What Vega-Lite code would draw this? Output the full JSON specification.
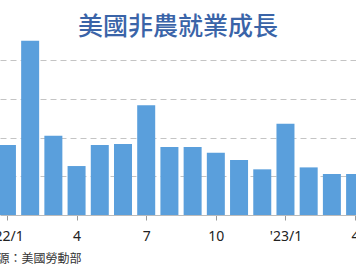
{
  "$schema": "https://vega.github.io/schema/vega-lite/v6.json",
  "width": 356,
  "height": 215,
  "autosize": {"type": "none"},
  "padding": {"left": 0, "top": 0, "right": 0, "bottom": 57},
  "background": "white",
  "title": {
    "text": "美國非農就業成長",
    "font": "Noto Sans CJK TC",
    "fontSize": 25,
    "fontWeight": 500,
    "color": "#3a64a8",
    "anchor": "middle",
    "frame": "group",
    "baseline": "middle",
    "offset": -52
  },
  "data": {
    "values": [
      {"idx": 0, "month": "2022-01", "jobs": 362},
      {"idx": 1, "month": "2022-02", "jobs": 901},
      {"idx": 2, "month": "2022-03", "jobs": 410},
      {"idx": 3, "month": "2022-04", "jobs": 253},
      {"idx": 4, "month": "2022-05", "jobs": 362},
      {"idx": 5, "month": "2022-06", "jobs": 367},
      {"idx": 6, "month": "2022-07", "jobs": 567},
      {"idx": 7, "month": "2022-08", "jobs": 351},
      {"idx": 8, "month": "2022-09", "jobs": 351},
      {"idx": 9, "month": "2022-10", "jobs": 322},
      {"idx": 10, "month": "2022-11", "jobs": 284},
      {"idx": 11, "month": "2022-12", "jobs": 236},
      {"idx": 12, "month": "2023-01", "jobs": 472},
      {"idx": 13, "month": "2023-02", "jobs": 246},
      {"idx": 14, "month": "2023-03", "jobs": 212},
      {"idx": 15, "month": "2023-04", "jobs": 212}
    ]
  },
  "mark": {"type": "bar", "size": 18, "color": "#5a9fdc", "clip": true},
  "encoding": {
    "x": {
      "field": "idx",
      "type": "quantitative",
      "scale": {"domain": [-0.0838, 15], "range": [0, 360.1], "nice": false, "zero": false},
      "axis": {
        "values": [0, 3, 6, 9, 12, 15],
        "labelExpr": "datum.value == 0 ? \"'22/1\" : datum.value == 12 ? \"'23/1\" : '' + ((datum.value % 12) + 1)",
        "labelFont": "Noto Sans",
        "labelFontSize": 14,
        "labelColor": "#222222",
        "labelPadding": 9,
        "labelOverlap": false,
        "labelFlush": false,
        "grid": false,
        "domainColor": "#bbbbbb",
        "tickColor": "#999999",
        "tickSize": 5,
        "title": "資料來源：美國勞動部",
        "titleFont": "Noto Sans CJK TC",
        "titleFontSize": 12,
        "titleFontWeight": "normal",
        "titleColor": "#333333",
        "titleAnchor": "start",
        "titleAlign": "left",
        "titleBaseline": "middle",
        "titleX": -39,
        "titleY": 43
      }
    },
    "y": {
      "field": "jobs",
      "type": "quantitative",
      "scale": {"domain": [0, 1111], "nice": false},
      "axis": {
        "values": [200, 400, 600, 800],
        "labels": false,
        "ticks": false,
        "domain": false,
        "title": null,
        "grid": true,
        "gridColor": "#c4c4c4",
        "gridDash": [6, 4],
        "gridWidth": 1
      }
    }
  },
  "config": {"view": {"stroke": null}}
}
